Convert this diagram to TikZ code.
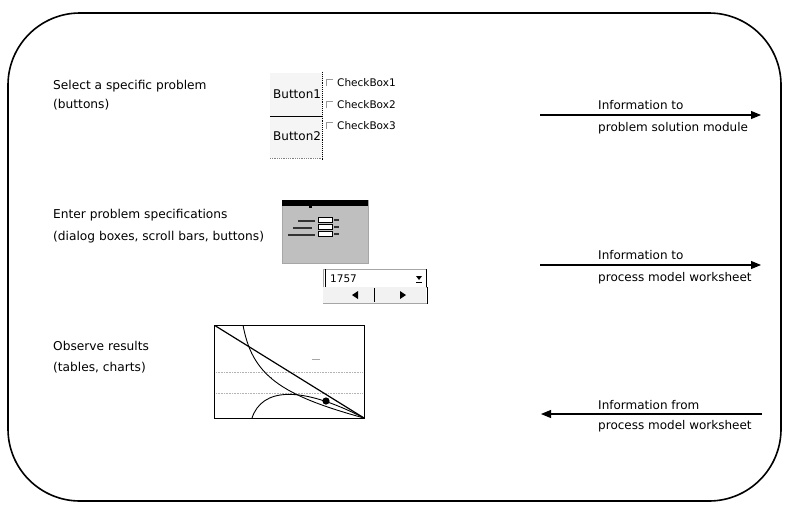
\documentclass[tikz,border=0pt]{standalone}
\usepackage{fontspec}
\setmainfont{DejaVu Sans}
\usetikzlibrary{arrows.meta}
\tikzset{
  lbl/.style={anchor=west, inner sep=0pt, font=\fontsize{12.2}{14}\selectfont},
  flowlbl/.style={anchor=west, inner sep=0pt, font=\fontsize{12}{14}\selectfont},
  small/.style={anchor=west, inner sep=0pt, font=\fontsize{10.5}{12}\selectfont},
  flow/.style={line width=1.1pt, -{Triangle[length=10pt,width=8pt]}},
  frame/.style={line width=1.6pt, rounded corners=72pt},
  widget/.style={draw=gray!70, line width=0.5pt},
  grid/.style={gray!60, densely dotted, line width=0.6pt},
}
\begin{document}
\begin{tikzpicture}[x=1pt, y=-1pt]
\useasboundingbox (0,0) rectangle (786,506);

% outer frame
\draw[frame] (8,13) rectangle (781,501);

% ---- row 1: choose a problem ----
\node[lbl] (sel1) at (53,86) {Select a specific problem};
\node[lbl] (sel2) at (53,105) {(buttons)};

% command buttons
\fill[gray!8] (270,73) rectangle (322,158);
\begin{scope}
  \clip (268,70) rectangle (322,160);
  \node[flowlbl, anchor=base west] (btn1) at (273,98) {Button1};
  \node[flowlbl, anchor=base west] (btn2) at (273,140) {Button2};
\end{scope}
\draw[line width=0.8pt] (270,116) -- (322,116);
\draw[densely dotted, line width=0.9pt] (322,72) -- (322,160);
\draw[densely dotted, gray, line width=0.8pt] (270,158) -- (322,158);

% check boxes
\foreach \yy/\nm in {82/1,104/2,125/3}{
  \draw[gray!80, line width=0.6pt] (326,\yy+4) -- (326,\yy-3) -- (333,\yy-3);
  \node[small] (cb\nm) at (337,\yy+1) {CheckBox\nm};
}

% ---- row 2: specifications ----
\node[lbl] (spec1) at (53,215) {Enter problem specifications};
\node[lbl] (spec2) at (53,237) {(dialog boxes, scroll bars, buttons)};

% dialog thumbnail
\fill[gray!50] (282,200) rectangle (368,263);
\draw[gray!70] (282,200) rectangle (368,263);
\fill[black] (282,200) rectangle (368,206);
\fill[black] (309,206) rectangle (312,208);
\foreach \yy in {217,224,231}{
  \fill[white] (318,\yy) rectangle (332,\yy+5);
  \draw[black, line width=0.6pt] (318,\yy) rectangle (332,\yy+5);
  \fill[black!80] (334,\yy+2) rectangle (339,\yy+3.5);
}
\fill[black!80] (298,220) rectangle (315,221.6);
\fill[black!80] (293,227) rectangle (312,228.8);
\fill[black!80] (288,234) rectangle (315,235.8);

% combo box
\draw[widget] (323,269) rectangle (426,287);
\draw[line width=0.8pt] (325,269) -- (325,287);
\node[small, anchor=west] (val) at (330,279) {1757};
\fill (416,276) -- (422,276) -- (419,280) -- cycle;
\draw[line width=0.5pt] (416,282) -- (422,282);
\draw[line width=0.8pt] (426,269) -- (426,287);

% spin / scroll buttons
\fill[gray!10] (323,287) rectangle (426,303);
\draw[line width=0.8pt] (374,288) -- (374,302);
\draw[line width=0.8pt] (427,287) -- (427,304);
\draw[gray!70, line width=0.5pt] (323,303) -- (427,303);
\fill (352,295) -- (358,291) -- (358,299) -- cycle;
\fill (400,291) -- (406,295) -- (400,299) -- cycle;

% ---- row 3: results ----
\node[lbl] (obs1) at (53,346) {Observe results};
\node[lbl] (obs2) at (53,368) {(tables, charts)};

% chart thumbnail
\draw[grid] (216,372) -- (362,372);
\draw[grid] (216,393) -- (362,393);
\draw[gray!70, line width=0.8pt] (312,359) -- (320,359);
\draw[gray!70, line width=0.6pt] (270,377) -- (272,377);
\draw[line width=0.9pt] (214,325) rectangle (364,418);
\begin{scope}
  \clip (214,325) rectangle (364,418);
  \draw[line width=1.2pt] (214,325) -- (364,418);
  \draw[line width=0.9pt] (243,325) .. controls (252,375) and (280,395) .. (364,418);
  \draw[line width=0.9pt] (252,418) .. controls (262,388) and (300,385) .. (364,418);
\end{scope}
\fill (326,401) circle (3.6pt);

% ---- information flows ----
\coordinate (f1a) at (540,115);
\coordinate (f1b) at (761,115);
\coordinate (f2a) at (540,265);
\coordinate (f2b) at (761,265);
\coordinate (f3a) at (762,414);
\coordinate (f3b) at (541,414);
\draw[flow] (f1a) -- (f1b);
\draw[flow] (f2a) -- (f2b);
\draw[flow] (f3a) -- (f3b);

\node[flowlbl] (i1a) at (598,105) {Information to};
\node[flowlbl] (i1b) at (598,128) {problem solution module};
\node[flowlbl] (i2a) at (598,255) {Information to};
\node[flowlbl] (i2b) at (598,278) {process model worksheet};
\node[flowlbl] (i3a) at (598,405) {Information from};
\node[flowlbl] (i3b) at (598,426) {process model worksheet};
\end{tikzpicture}
\end{document}
